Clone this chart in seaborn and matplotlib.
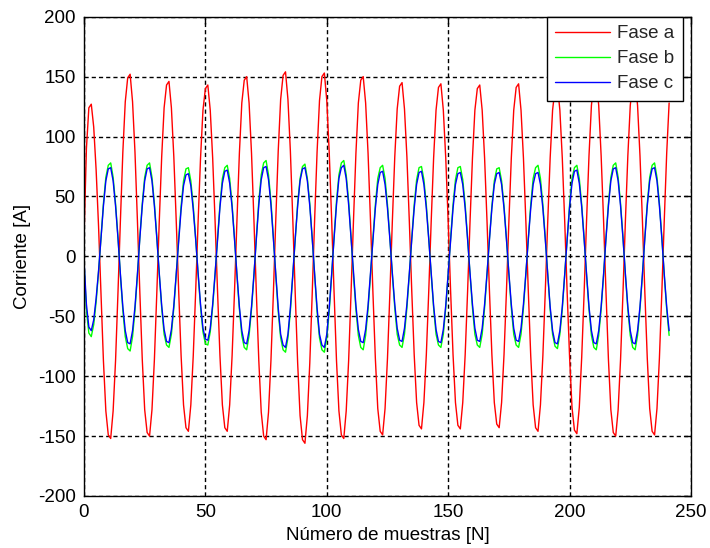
import matplotlib
matplotlib.use("Agg")
import matplotlib.pyplot as plt
import seaborn as sns
import pandas as pd
import numpy as np

# Sample index
muestras = list(range(0, 242))

fase_a = [15, 90, 124, 127, 108, 72, 25,
          -30, -87, -129, -149, -152, -129, -87, -30,
          30, 87, 129, 149, 152, 129, 87, 30,
          -30, -86, -128, -147, -150, -128, -86, -30,
          29, 83, 124, 143, 146, 124, 83, 29,
          -29, -83, -124, -143, -146, -124, -83, -29,
          29, 82, 122, 140, 143, 122, 82, 29,
          -29, -83, -124, -143, -146, -124, -83, -29,
          30, 86, 128, 147, 150, 128, 86, 30,
          -31, -87, -130, -150, -153, -130, -87, -31,
          31, 88, 131, 151, 154, 131, 88, 31,
          -31, -89, -133, -153, -156, -133, -89, -31,
          31, 87, 130, 150, 153, 130, 87, 31,
          -30, -87, -129, -149, -152, -129, -87, -30,
          30, 86, 128, 147, 150, 128, 86, 30,
          -30, -85, -127, -146, -149, -127, -85, -30,
          29, 83, 123, 142, 145, 123, 83, 29,
          -29, -82, -122, -141, -144, -122, -82, -29,
          29, 82, 122, 141, 144, 122, 82, 29,
          -29, -82, -122, -141, -144, -122, -82, -29,
          29, 82, 122, 140, 143, 122, 82, 29,
          -29, -82, -122, -140, -143, -122, -82, -29,
          29, 82, 122, 141, 144, 122, 82, 29,
          -29, -83, -124, -143, -146, -124, -83, -29,
          29, 82, 122, 140, 143, 122, 82, 29,
          -30, -84, -126, -145, -148, -126, -84, -30,
          30, 84, 126, 145, 148, 126, 84, 30,
          -30, -86, -128, -147, -150, -128, -86, -30,
          30, 84, 126, 145, 148, 126, 84, 30,
          -30, -85, -127, -146, -149, -127, -85, -30,
          30, 86, 128]

fase_b = [-5, -45, -64, -67, -57, -38, -13,
          16, 44, 66, 76, 78, 66, 44, 16,
          -16, -45, -67, -77, -79, -67, -45, -16,
          16, 44, 66, 76, 78, 66, 44, 16,
          -15, -43, -65, -74, -76, -65, -43, -15,
          15, 42, 63, 73, 74, 63, 42, 15,
          -15, -42, -63, -73, -74, -63, -42, -15,
          15, 43, 65, 74, 76, 65, 43, 15,
          -16, -44, -66, -76, -78, -66, -44, -16,
          16, 46, 68, 78, 80, 68, 46, 16,
          -16, -46, -68, -78, -80, -68, -46, -16,
          15, 44, 65, 75, 77, 65, 44, 15,
          -16, -46, -68, -78, -80, -68, -46, -16,
          16, 46, 68, 78, 80, 68, 46, 16,
          -16, -44, -66, -76, -78, -66, -44, -16,
          15, 43, 65, 74, 76, 65, 43, 15,
          -15, -43, -65, -74, -76, -65, -43, -15,
          15, 43, 64, 74, 75, 64, 43, 15,
          -15, -43, -65, -74, -76, -65, -43, -15,
          15, 43, 64, 74, 75, 64, 43, 15,
          -15, -43, -65, -74, -76, -65, -43, -15,
          15, 42, 63, 73, 74, 63, 42, 15,
          -15, -43, -65, -74, -76, -65, -43, -15,
          15, 43, 65, 74, 76, 65, 43, 15,
          -15, -44, -65, -75, -77, -65, -44, -15,
          15, 43, 65, 74, 76, 65, 43, 15,
          -16, -44, -66, -76, -78, -66, -44, -16,
          16, 44, 66, 76, 78, 66, 44, 16,
          -16, -44, -66, -76, -78, -66, -44, -16,
          16, 44, 66, 76, 78, 66, 44, 16,
          -16, -44, -66]

fase_c = [-3, -40, -59, -62, -53, -35, -12,
          15, 42, 63, 73, 74, 63, 42, 15,
          -15, -42, -62, -72, -73, -62, -42, -15,
          15, 42, 63, 73, 74, 63, 42, 15,
          -14, -41, -61, -71, -72, -61, -41, -14,
          14, 39, 59, 68, 69, 59, 39, 14,
          -14, -40, -60, -69, -70, -60, -40, -14,
          14, 41, 61, 71, 72, 61, 41, 14,
          -15, -42, -62, -72, -73, -62, -42, -15,
          15, 43, 64, 74, 75, 64, 43, 15,
          -15, -43, -65, -74, -76, -65, -43, -15,
          15, 42, 63, 73, 74, 63, 42, 15,
          -15, -43, -65, -74, -76, -65, -43, -15,
          15, 43, 65, 74, 76, 65, 43, 15,
          -14, -41, -61, -71, -72, -61, -41, -14,
          14, 40, 60, 70, 71, 60, 40, 14,
          -14, -40, -60, -70, -71, -60, -40, -14,
          14, 40, 60, 70, 71, 60, 40, 14,
          -14, -41, -61, -71, -72, -61, -41, -14,
          14, 40, 60, 69, 70, 60, 40, 14,
          -14, -40, -60, -70, -71, -60, -40, -14,
          14, 40, 60, 69, 70, 60, 40, 14,
          -14, -40, -60, -70, -71, -60, -40, -14,
          14, 40, 60, 69, 70, 60, 40, 14,
          -15, -42, -62, -72, -73, -62, -42, -15,
          14, 41, 61, 71, 72, 61, 41, 14,
          -15, -42, -62, -72, -73, -62, -42, -15,
          15, 42, 63, 73, 74, 63, 42, 15,
          -15, -42, -62, -72, -73, -62, -42, -15,
          15, 42, 63, 73, 74, 63, 42, 15,
          -15, -42, -62]

series_names = ["Fase a", "Fase b", "Fase c"]
series_colors = ["#ff0000", "#00ff00", "#0000ff"]
x_ticks = [0, 50, 100, 150, 200, 250]
y_ticks = [-200, -150, -100, -50, 0, 50, 100, 150, 200]

sns.set_theme(style="white")
plt.rcParams['font.family'] = ['Liberation Sans', 'DejaVu Sans']

fig = plt.figure(figsize=(7.10, 5.48), dpi=100)
ax = fig.add_axes([0.1183, 0.0949, 0.8549, 0.8746])

df = pd.DataFrame({
    "muestra": muestras * 3,
    "corriente": fase_a + fase_b + fase_c,
    "fase": [series_names[0]] * len(fase_a) + [series_names[1]] * len(fase_b) + [series_names[2]] * len(fase_c),
})

for name, col in zip(series_names, series_colors):
    sub = df[df["fase"] == name]
    sns.lineplot(data=sub, x="muestra", y="corriente", color=col, linewidth=1.0,
                 label=name, ax=ax, estimator=None, sort=False)

ax.set_xlim(0, 250)
ax.set_ylim(-200, 200)
ax.set_xticks(x_ticks)
ax.set_yticks(y_ticks)
ax.set_xticklabels([str(t) for t in x_ticks])
ax.set_yticklabels([str(t) for t in y_ticks])
ax.tick_params(direction='in', top=True, right=True, length=5, width=1,
               labelsize=13.5, pad=6, colors='black')
ax.grid(True, color='black', linestyle=(0, (3, 2.2)), linewidth=1.0)
ax.set_axisbelow(True)
for s in ax.spines.values():
    s.set_color('black')
    s.set_linewidth(1.0)
    s.set_visible(True)

ax.set_xlabel("Número de muestras [N]", fontsize=13.5, color='black', labelpad=4)
ax.set_ylabel("Corriente [A]", fontsize=13.5, color='black', labelpad=5)

leg = ax.legend(loc='upper right', bbox_to_anchor=(0.9868, 1.0), borderaxespad=0,
                fontsize=13.5, frameon=True, fancybox=False, framealpha=1,
                edgecolor='black', handlelength=2.9, handletextpad=0.4,
                labelspacing=0.42, borderpad=0.45)
leg.get_frame().set_linewidth(1.0)

fig.savefig("out.png", dpi=100, facecolor='white')
